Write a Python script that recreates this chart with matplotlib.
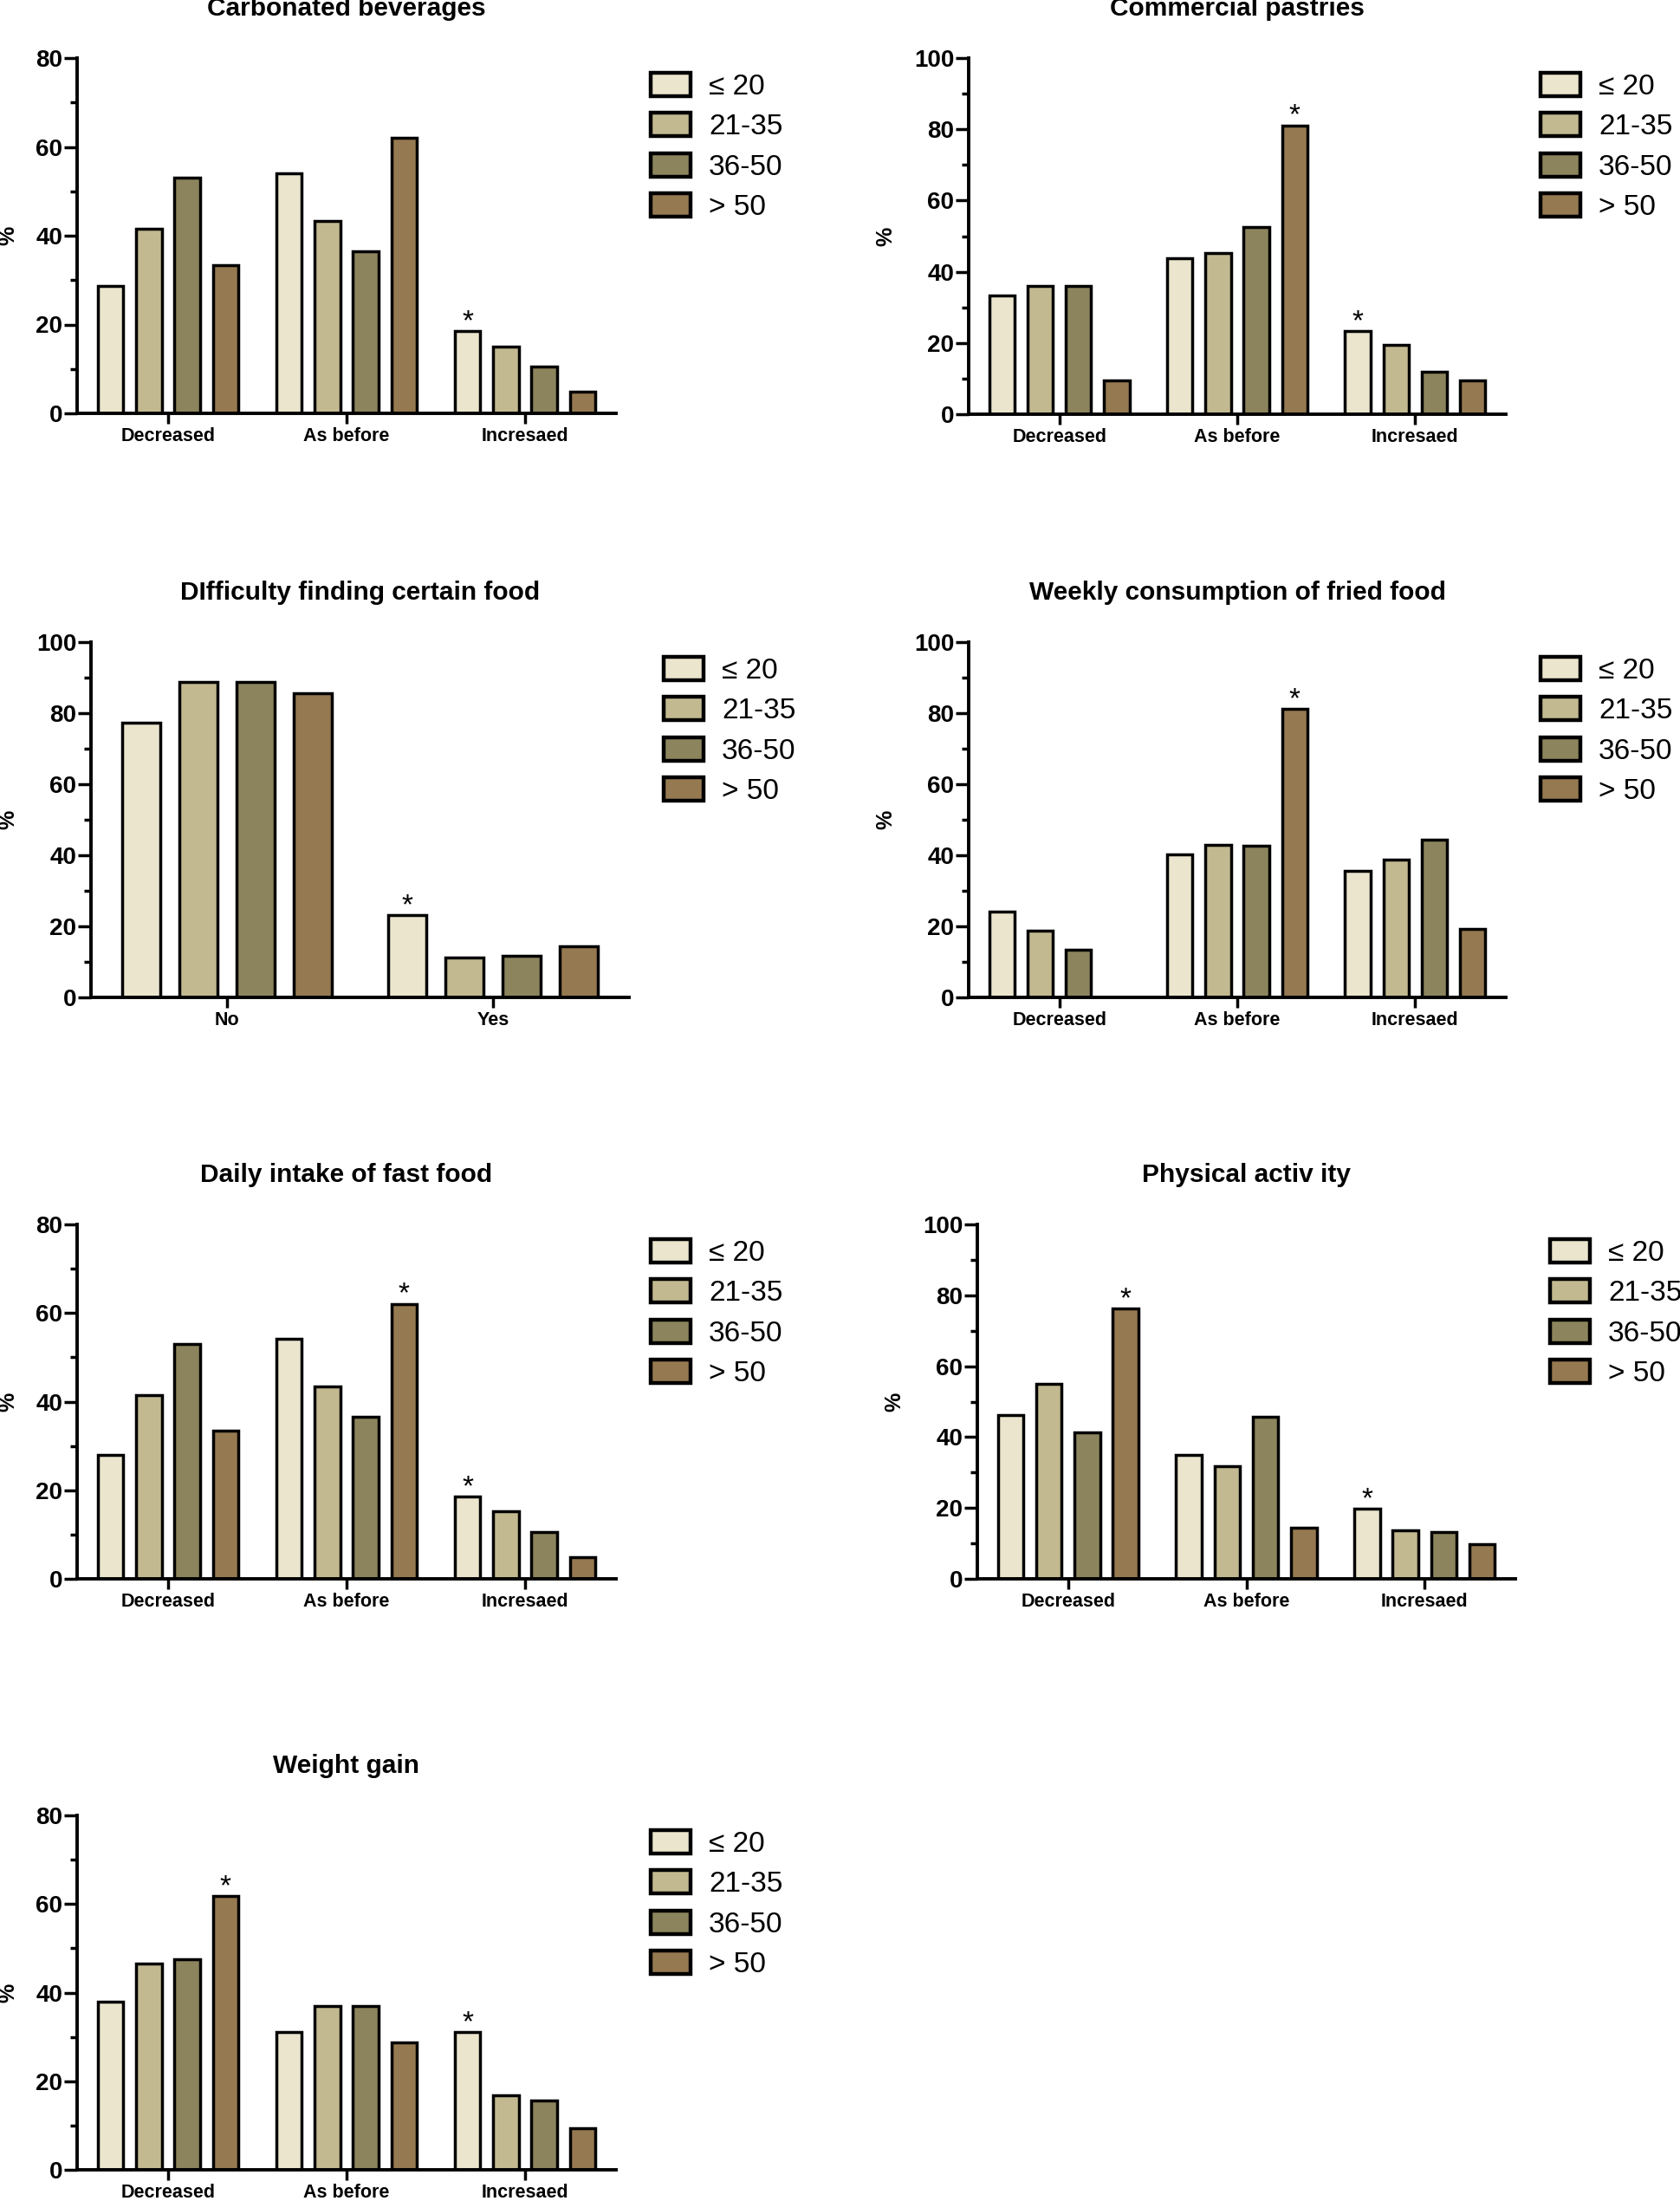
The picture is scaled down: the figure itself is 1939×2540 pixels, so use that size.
"""Bar panels: change in eating habits by age group."""

import matplotlib
matplotlib.use("Agg")
import numpy as np
import matplotlib.pyplot as plt
from matplotlib.ticker import MultipleLocator

plt.rcParams["font.family"] = ["Liberation Sans", "DejaVu Sans"]

FIG_W, FIG_H = 1939, 2540
DPI = 100

AGE_GROUPS = ["≤ 20", "21-35", "36-50", "> 50"]
CHANGE_CATS = ["Decreased", "As before", "Incresaed"]
YES_NO = ["No", "Yes"]

# rows = age groups, columns = categories
CARBONATED = [
    [28.7, 54.1, 18.5],
    [41.5, 43.4, 15.1],
    [53.1, 36.5, 10.6],
    [33.4, 62.0, 4.8],
]
PASTRIES = [
    [33.4, 43.8, 23.3],
    [35.9, 45.3, 19.4],
    [35.9, 52.6, 12.0],
    [9.6, 81.1, 9.6],
]
DIFFICULTY = [
    [77.3, 23.1],
    [88.8, 11.2],
    [88.7, 11.6],
    [85.7, 14.5],
]
FRIED_FOOD = [
    [24.2, 40.2, 35.7],
    [18.7, 43.0, 38.7],
    [13.3, 42.6, 44.3],
    [0.0, 81.1, 19.3],
]
FAST_FOOD = [
    [27.9, 54.1, 18.5],
    [41.5, 43.4, 15.3],
    [53.1, 36.6, 10.6],
    [33.5, 62.1, 4.9],
]
PHYSICAL = [
    [46.2, 34.9, 19.7],
    [55.0, 31.9, 13.7],
    [41.2, 45.8, 13.3],
    [76.3, 14.5, 9.7],
]
WEIGHT_GAIN = [
    [38.0, 31.1, 31.1],
    [46.5, 37.0, 16.8],
    [47.5, 37.0, 15.7],
    [61.8, 28.8, 9.4],
]

# (category index, age group index) marked with *
CARBONATED_STARS = [(2, 0)]
PASTRIES_STARS = [(1, 3), (2, 0)]
DIFFICULTY_STARS = [(1, 0)]
FRIED_FOOD_STARS = [(1, 3)]
FAST_FOOD_STARS = [(1, 3), (2, 0)]
PHYSICAL_STARS = [(0, 3), (2, 0)]
WEIGHT_GAIN_STARS = [(0, 3), (2, 0)]

COLORS = ["#ebe5ce", "#c2b990", "#8c845c", "#957950"]
BAR_WIDTH = 0.143
BAR_PITCH = 0.215

# pixel box: left, top, right, bottom (y = 0 line)
PANELS = [
    ("Carbonated beverages", CHANGE_CATS, CARBONATED, CARBONATED_STARS, 80, (89, 67, 711, 477)),
    ("Commercial pastries", CHANGE_CATS, PASTRIES, PASTRIES_STARS, 100, (1118, 67, 1738, 478)),
    ("DIfficulty finding certain food", YES_NO, DIFFICULTY, DIFFICULTY_STARS, 100, (105, 741, 726, 1151)),
    ("Weekly consumption of fried food", CHANGE_CATS, FRIED_FOOD, FRIED_FOOD_STARS, 100, (1118, 741, 1738, 1151)),
    ("Daily intake of fast food", CHANGE_CATS, FAST_FOOD, FAST_FOOD_STARS, 80, (89, 1413, 711, 1822)),
    ("Physical activ ity", CHANGE_CATS, PHYSICAL, PHYSICAL_STARS, 100, (1128, 1413, 1749, 1822)),
    ("Weight gain", CHANGE_CATS, WEIGHT_GAIN, WEIGHT_GAIN_STARS, 80, (89, 2095, 711, 2504)),
]


def draw_panel(fig, title, categories, values, stars, ymax, box):
    left, top, right, bottom = box
    w_px, h_px = right - left, bottom - top
    ax = fig.add_axes([left / FIG_W, 1 - bottom / FIG_H, w_px / FIG_W, h_px / FIG_H])

    x = np.arange(len(categories))
    for i, (label, color, row) in enumerate(zip(AGE_GROUPS, COLORS, values)):
        ax.bar(x + (i - 1.5) * BAR_PITCH, row, width=BAR_WIDTH, color=color,
               edgecolor="black", linewidth=2.5, label=label, zorder=2)

    for cat, grp in stars:
        ax.annotate("*", xy=(cat + (grp - 1.5) * BAR_PITCH, values[grp][cat]),
                    xytext=(0, 2), textcoords="offset pixels",
                    ha="center", va="baseline", fontsize=24)

    ax.set_xlim(-0.51, len(categories) - 0.49)
    ax.set_ylim(0, ymax)
    ax.set_xticks(x)
    ax.set_xticklabels(categories, fontsize=15.5, fontweight="bold")
    ax.yaxis.set_major_locator(MultipleLocator(20))
    ax.yaxis.set_minor_locator(MultipleLocator(10))
    for lab in ax.get_yticklabels():
        lab.set_fontweight("bold")
    ax.tick_params(axis="y", which="major", labelsize=20, length=11, width=2.5, pad=1)
    ax.tick_params(axis="y", which="minor", length=5.5, width=2.5)
    ax.tick_params(axis="x", length=8.5, width=2.5, pad=3)

    for side in ("top", "right"):
        ax.spines[side].set_visible(False)
    for side in ("left", "bottom"):
        ax.spines[side].set_linewidth(2.8)

    ax.set_ylabel("%", fontsize=18, fontweight="bold")
    label_gap = 68 if ymax < 100 else 84
    ax.yaxis.set_label_coords(-label_gap / w_px, 0.5)

    ax.annotate(title, xy=(0.5, 1), xycoords="axes fraction", xytext=(0, 57),
                textcoords="offset pixels", ha="center", va="center",
                fontsize=21.5, fontweight="bold")

    leg = ax.legend(loc="upper left", bbox_to_anchor=(1 + 40 / w_px, 1 - 17 / h_px),
                    bbox_transform=ax.transAxes, frameon=False, fontsize=24,
                    borderpad=0, borderaxespad=0, handlelength=1.38,
                    handleheight=0.87, handletextpad=0.63, labelspacing=0.43)
    for handle in leg.legend_handles:
        handle.set_linewidth(3.2)
    return ax


def main() -> int:
    fig = plt.figure(figsize=(FIG_W / DPI, FIG_H / DPI), dpi=DPI)
    for title, cats, values, stars, ymax, box in PANELS:
        draw_panel(fig, title, cats, values, stars, ymax, box)
    fig.savefig("out.png", dpi=DPI, facecolor="white")
    plt.close(fig)
    return 0


if __name__ == "__main__":
    raise SystemExit(main())
